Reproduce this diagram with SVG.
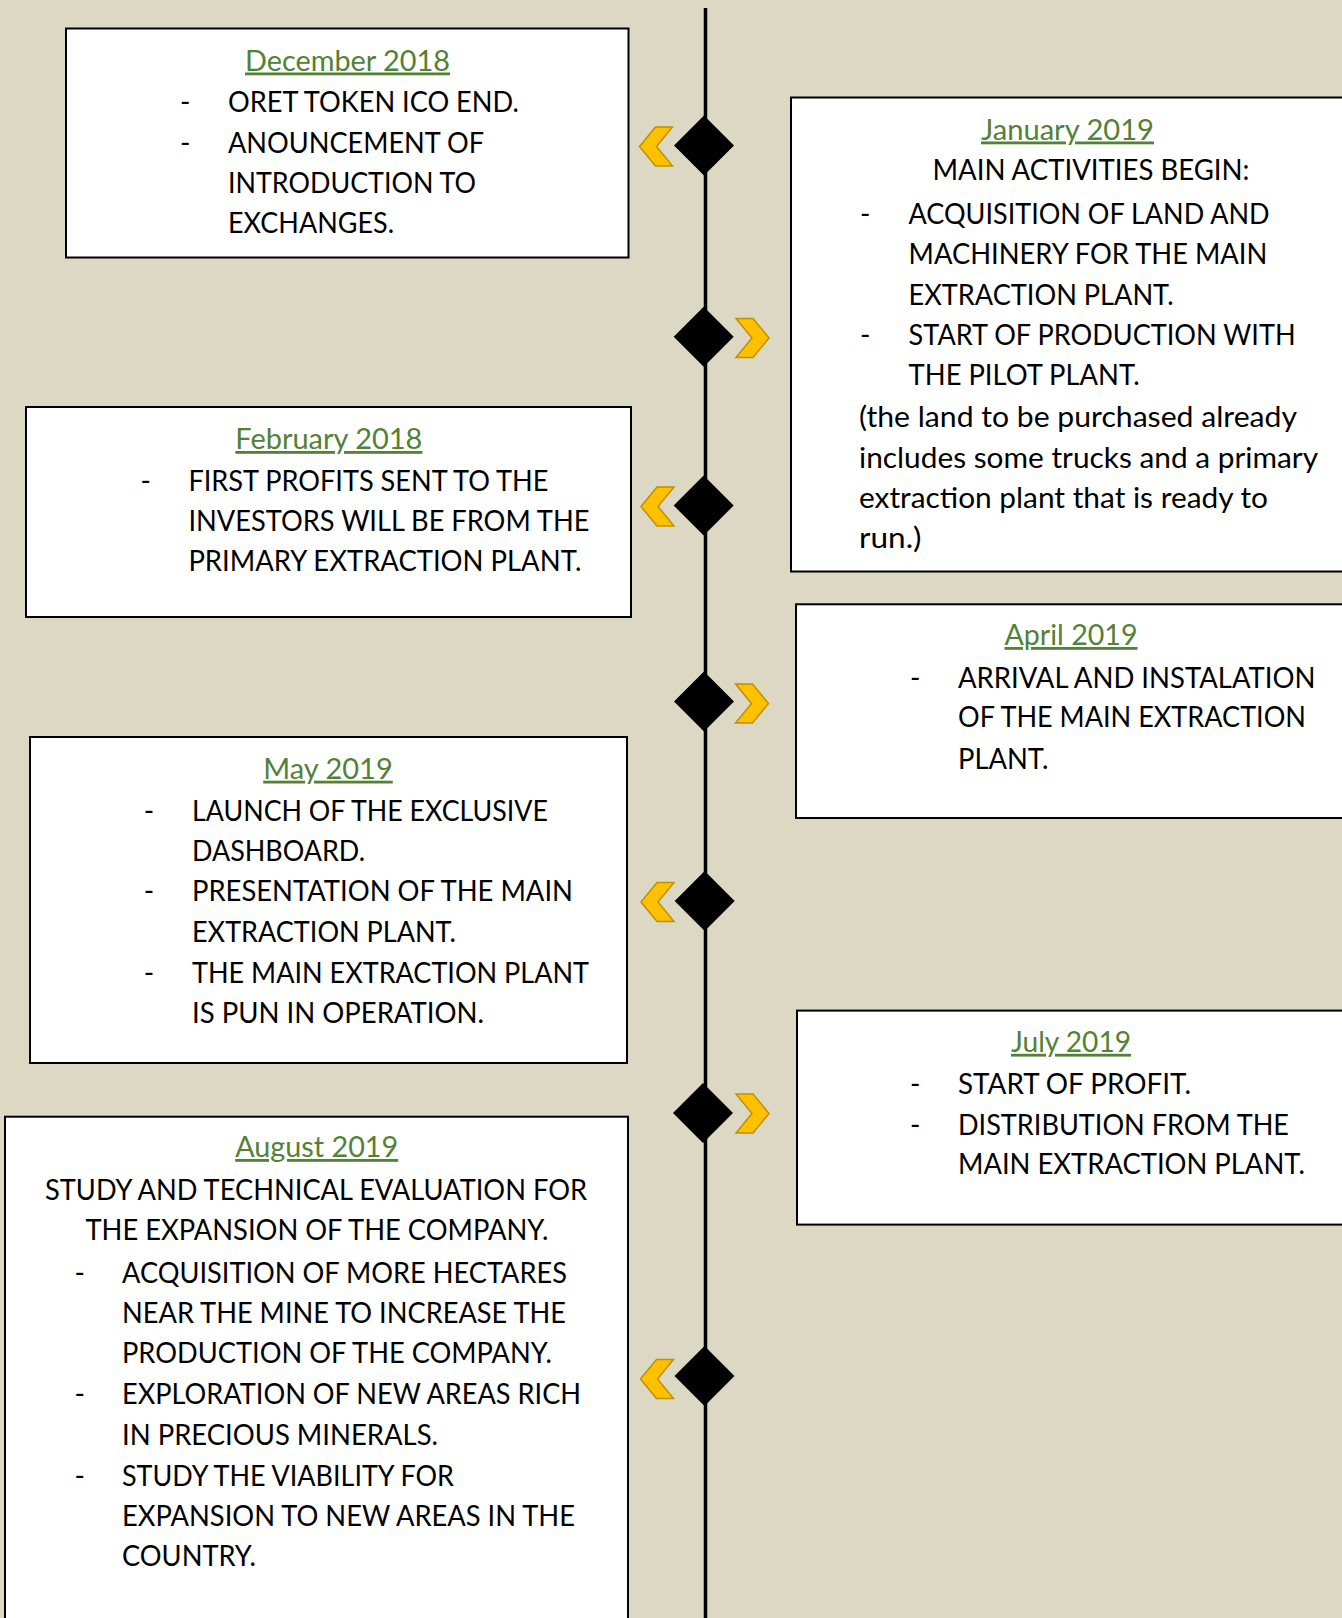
<svg xmlns="http://www.w3.org/2000/svg" xmlns:xlink="http://www.w3.org/1999/xlink" width="1342" height="1618" viewBox="0 0 1342 1618">
<style>
.box{fill:#ffffff;stroke:#000000;stroke-width:2}
.t{font-family:Lato,"Open Sans","Liberation Sans",sans-serif;font-size:28px;fill:#000000}
.ttl{font-family:Lato,"Open Sans","Liberation Sans",sans-serif;font-size:28px;fill:#538135;text-decoration:underline;text-anchor:middle}
.c{text-anchor:middle}
.dia{fill:#000000}
.chev{fill:#FFC000;stroke:#BF9000;stroke-width:1.5;stroke-linejoin:miter}
</style>
<defs>
<path id="chevL" d="M0,0 L16,-19.5 L33,-19.5 L17,0 L33,19.5 L16,19.5 Z"/>
<path id="chevR" d="M33,0 L17,-19.5 L0,-19.5 L16,0 L0,19.5 L17,19.5 Z"/>
<path id="dia" d="M0,-30 L30,0 L0,30 L-30,0 Z"/>
</defs>
<rect x="0" y="0" width="1342" height="1618" fill="#DDD8C3"/>
<g id="connectors">
<line x1="705.5" y1="8" x2="705.5" y2="1618" stroke="#000000" stroke-width="3.5"/>
</g>
<g id="node-dec-2018">
<rect class="box" x="66" y="28.5" width="562.5" height="229"/>
<text class="ttl" x="347.5" y="70.5" textLength="205" lengthAdjust="spacingAndGlyphs">December 2018</text>
<text class="t" x="180" y="112">-</text>
<text class="t" x="180" y="152.5">-</text>
<text class="t" x="228" y="112" textLength="291" lengthAdjust="spacingAndGlyphs">ORET TOKEN ICO END.</text>
<text class="t" x="228" y="152.5" textLength="256" lengthAdjust="spacingAndGlyphs">ANOUNCEMENT OF</text>
<text class="t" x="228" y="193" textLength="248" lengthAdjust="spacingAndGlyphs">INTRODUCTION TO</text>
<text class="t" x="228" y="232.5" textLength="166" lengthAdjust="spacingAndGlyphs">EXCHANGES.</text>
</g>
<g id="node-jan-2019">
<rect class="box" x="791" y="97.5" width="570" height="474"/>
<text class="ttl" x="1067.5" y="139.5" textLength="173" lengthAdjust="spacingAndGlyphs">January 2019</text>
<text class="t c" x="1091" y="180" textLength="317" lengthAdjust="spacingAndGlyphs">MAIN ACTIVITIES BEGIN:</text>
<text class="t" x="860" y="223.5">-</text>
<text class="t" x="860" y="345">-</text>
<text class="t" x="908.6" y="223.5" textLength="361" lengthAdjust="spacingAndGlyphs">ACQUISITION OF LAND AND</text>
<text class="t" x="908.6" y="264" textLength="358.7" lengthAdjust="spacingAndGlyphs">MACHINERY FOR THE MAIN</text>
<text class="t" x="908.6" y="304.7" textLength="265" lengthAdjust="spacingAndGlyphs">EXTRACTION PLANT.</text>
<text class="t" x="908.6" y="345" textLength="387" lengthAdjust="spacingAndGlyphs">START OF PRODUCTION WITH</text>
<text class="t" x="908.6" y="385" textLength="231" lengthAdjust="spacingAndGlyphs">THE PILOT PLANT.</text>
<text class="t" x="859" y="427.3" textLength="438" lengthAdjust="spacingAndGlyphs">(the land to be purchased already</text>
<text class="t" x="859" y="468.3" textLength="459" lengthAdjust="spacingAndGlyphs">includes some trucks and a primary</text>
<text class="t" x="859" y="508.3" textLength="409" lengthAdjust="spacingAndGlyphs">extraction plant that is ready to</text>
<text class="t" x="859" y="548.3" textLength="62.5" lengthAdjust="spacingAndGlyphs">run.)</text>
</g>
<g id="node-feb-2018">
<rect class="box" x="26" y="407" width="605" height="210"/>
<text class="ttl" x="328.8" y="449" textLength="187" lengthAdjust="spacingAndGlyphs">February 2018</text>
<text class="t" x="140.6" y="490.7">-</text>
<text class="t" x="188.4" y="490.7" textLength="360" lengthAdjust="spacingAndGlyphs">FIRST PROFITS SENT TO THE</text>
<text class="t" x="188.4" y="531" textLength="401" lengthAdjust="spacingAndGlyphs">INVESTORS WILL BE FROM THE</text>
<text class="t" x="188.4" y="571" textLength="393" lengthAdjust="spacingAndGlyphs">PRIMARY EXTRACTION PLANT.</text>
</g>
<g id="node-apr-2019">
<rect class="box" x="796" y="604.3" width="570" height="213.7"/>
<text class="ttl" x="1071" y="645" textLength="133" lengthAdjust="spacingAndGlyphs">April 2019</text>
<text class="t" x="910" y="687.5">-</text>
<text class="t" x="958" y="687.5" textLength="357.5" lengthAdjust="spacingAndGlyphs">ARRIVAL AND INSTALATION</text>
<text class="t" x="958" y="727.4" textLength="348" lengthAdjust="spacingAndGlyphs">OF THE MAIN EXTRACTION</text>
<text class="t" x="958" y="768.6" textLength="90.5" lengthAdjust="spacingAndGlyphs">PLANT.</text>
</g>
<g id="node-may-2019">
<rect class="box" x="30" y="737" width="597" height="326"/>
<text class="ttl" x="328" y="778.7" textLength="129.5" lengthAdjust="spacingAndGlyphs">May 2019</text>
<text class="t" x="143.8" y="821">-</text>
<text class="t" x="143.8" y="901.4">-</text>
<text class="t" x="143.8" y="982.7">-</text>
<text class="t" x="192" y="821" textLength="356" lengthAdjust="spacingAndGlyphs">LAUNCH OF THE EXCLUSIVE</text>
<text class="t" x="192" y="861.3" textLength="173" lengthAdjust="spacingAndGlyphs">DASHBOARD.</text>
<text class="t" x="192" y="901.4" textLength="381" lengthAdjust="spacingAndGlyphs">PRESENTATION OF THE MAIN</text>
<text class="t" x="192" y="941.6" textLength="264" lengthAdjust="spacingAndGlyphs">EXTRACTION PLANT.</text>
<text class="t" x="192" y="982.7" textLength="397" lengthAdjust="spacingAndGlyphs">THE MAIN EXTRACTION PLANT</text>
<text class="t" x="192" y="1022.9" textLength="292" lengthAdjust="spacingAndGlyphs">IS PUN IN OPERATION.</text>
</g>
<g id="node-jul-2019">
<rect class="box" x="797" y="1010.6" width="570" height="214"/>
<text class="ttl" x="1071" y="1051.8" textLength="120" lengthAdjust="spacingAndGlyphs">July 2019</text>
<text class="t" x="910" y="1094">-</text>
<text class="t" x="910" y="1135">-</text>
<text class="t" x="958" y="1094" textLength="233" lengthAdjust="spacingAndGlyphs">START OF PROFIT.</text>
<text class="t" x="958" y="1135" textLength="331" lengthAdjust="spacingAndGlyphs">DISTRIBUTION FROM THE</text>
<text class="t" x="958" y="1174" textLength="347" lengthAdjust="spacingAndGlyphs">MAIN EXTRACTION PLANT.</text>
</g>
<g id="node-aug-2019">
<rect class="box" x="5" y="1116.7" width="623" height="530"/>
<text class="ttl" x="316.7" y="1157" textLength="163" lengthAdjust="spacingAndGlyphs">August 2019</text>
<text class="t c" x="316" y="1200" textLength="542" lengthAdjust="spacingAndGlyphs">STUDY AND TECHNICAL EVALUATION FOR</text>
<text class="t c" x="317" y="1240" textLength="463" lengthAdjust="spacingAndGlyphs">THE EXPANSION OF THE COMPANY.</text>
<text class="t" x="74.6" y="1282.7">-</text>
<text class="t" x="74.6" y="1404">-</text>
<text class="t" x="74.6" y="1486">-</text>
<text class="t" x="122" y="1282.7" textLength="445" lengthAdjust="spacingAndGlyphs">ACQUISITION OF MORE HECTARES</text>
<text class="t" x="122" y="1322.7" textLength="444" lengthAdjust="spacingAndGlyphs">NEAR THE MINE TO INCREASE THE</text>
<text class="t" x="122" y="1363.3" textLength="430" lengthAdjust="spacingAndGlyphs">PRODUCTION OF THE COMPANY.</text>
<text class="t" x="122" y="1404" textLength="459" lengthAdjust="spacingAndGlyphs">EXPLORATION OF NEW AREAS RICH</text>
<text class="t" x="122" y="1445" textLength="316" lengthAdjust="spacingAndGlyphs">IN PRECIOUS MINERALS.</text>
<text class="t" x="122" y="1486" textLength="332" lengthAdjust="spacingAndGlyphs">STUDY THE VIABILITY FOR</text>
<text class="t" x="122" y="1526" textLength="453" lengthAdjust="spacingAndGlyphs">EXPANSION TO NEW AREAS IN THE</text>
<text class="t" x="122" y="1566" textLength="134" lengthAdjust="spacingAndGlyphs">COUNTRY.</text>
</g>
<g id="timeline-markers">
<use href="#dia" class="dia" x="704" y="145.5"/>
<use href="#dia" class="dia" x="703.7" y="336.7"/>
<use href="#dia" class="dia" x="703.7" y="505.5"/>
<use href="#dia" class="dia" x="704" y="701.5"/>
<use href="#dia" class="dia" x="704.7" y="901"/>
<use href="#dia" class="dia" x="703" y="1113"/>
<use href="#dia" class="dia" x="704.5" y="1376"/>
<use href="#chevL" class="chev" x="639.5" y="146.5"/>
<use href="#chevL" class="chev" x="641" y="506.5"/>
<use href="#chevL" class="chev" x="641" y="902"/>
<use href="#chevL" class="chev" x="640.5" y="1379"/>
<use href="#chevR" class="chev" x="736" y="338"/>
<use href="#chevR" class="chev" x="735.5" y="703.5"/>
<use href="#chevR" class="chev" x="736" y="1113.5"/>
</g>
</svg>
